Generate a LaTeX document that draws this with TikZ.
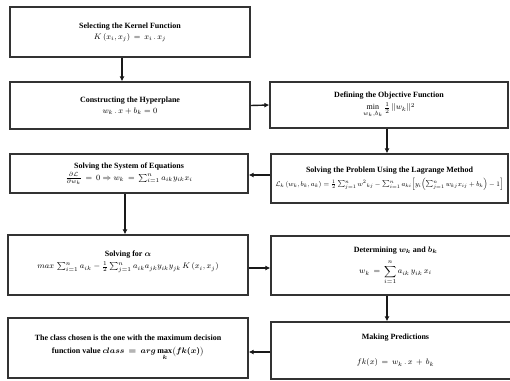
\documentclass[tikz,border=0pt]{standalone}
\usepackage{amsmath,amssymb}
\usepackage{fontspec}
\setmainfont{Liberation Serif}
\usetikzlibrary{arrows.meta}
\begin{document}
\begin{tikzpicture}[x=1pt,y=-1pt,
  box/.style={draw=black!80, line width=1.3pt, fill=white, align=center,
    inner sep=2pt, font=\fontsize{8}{11}\selectfont},
  arr/.style={draw=black!90, line width=1.4pt, -{Latex[length=5pt,width=5pt]}}]
\clip (0,0) rectangle (510,380);
\fill[white] (0,0) rectangle (510,380);
% left column
\node[box, minimum width=240pt, minimum height=50pt] (b1) at (130,32)
  {\textbf{Selecting the Kernel Function}\\ $K\left(x_i, x_j\right) \,=\, x_i\,.\,x_j$};
\node[box, minimum width=240pt, minimum height=47pt] (b2) at (130,105.5)
  {\textbf{Constructing the Hyperplane}\\ $w_k\,.\,x + b_k = 0$};
\node[box, minimum width=238pt, minimum height=46pt] (b3) at (389,105)
  {\textbf{Defining the Objective Function}\\[1pt] $\min\limits_{w_k,b_k}\frac{1}{2}\,\lVert w_k\rVert^2$};
\node[box, minimum width=237pt, minimum height=49pt] (b4) at (389.5,178.5)
  {\textbf{Solving the Problem Using the Lagrange Method}\\[3pt]
   \resizebox{228pt}{!}{$\mathcal{L}_k\left(w_k,b_k,a_k\right) = \frac{1}{2}\sum_{j=1}^{n}{w^2}_{kj} - \sum_{i=1}^{n}a_{ki}\Bigl[y_i\Bigl(\sum_{j=1}^{n}w_{kj}x_{ij} + b_k\Bigr) - 1\Bigr]$}};
\node[box, minimum width=238pt, minimum height=39pt] (b5) at (129,173.5)
  {\textbf{Solving the System of Equations}\\[1pt] $\frac{\partial\mathcal{L}}{\partial w_k} \,=\, 0 \Rightarrow w_k \,=\, \sum_{i=1}^{n} a_{ik}y_{ik}x_i$};
\node[box, minimum width=240pt, minimum height=60pt, text depth=10pt] (b6) at (128,265)
  {\textbf{Solving for $\boldsymbol{\alpha}$}\\[1pt] $max\,\sum_{i=1}^{n} a_{ik} - \frac{1}{2}\sum_{j=1}^{n} a_{ik}a_{jk}y_{ik}y_{jk}\,K\left(x_i,x_j\right)$};
\node[box, minimum width=249pt, minimum height=59pt] (b7) at (395.5,265.5)
  {\textbf{Determining $\boldsymbol{w_k}$ and $\boldsymbol{b_k}$}\\[5pt] $w_k \,=\, \displaystyle\sum_{i=1}^{n} a_{ik}\,y_{ik}\,x_i$};
\node[box, minimum width=249pt, minimum height=57pt] (b8) at (395.5,350.5)
  {\textbf{Making Predictions}\\[14pt] $fk(x) \,=\, w_k\,.\,x \,+\, b_k$};
\node[box, minimum width=240pt, minimum height=60pt] (b9) at (128,348)
  {\textbf{The class chosen is the one with the maximum decision}\\[2pt]
   \textbf{function value} {\boldmath$class \,=\, arg\max\limits_k\bigl(fk(x)\bigr)$}};
% connectors
\draw[arr] ([xshift=-8pt]b1.south) -- ([xshift=-8pt]b2.north);
\draw[arr] (b2.east) -- (b3.west);
\draw[arr] ([xshift=-2pt]b3.south) -- ([xshift=-2pt]b3.south |- b4.north);
\draw[arr] ([yshift=3.5pt]b4.west) -- ([yshift=3.5pt]b4.west -| b5.east);
\draw[arr] ([xshift=-4pt]b5.south) -- ([xshift=-4pt]b5.south |- b6.north);
\draw[arr] ([yshift=-3pt]b6.east) -- ([yshift=-3pt]b6.east -| b7.west);
\draw[arr] (b7.south -| 387,0) -- (b8.north -| 387,0);
\draw[arr] ([yshift=-1.5pt]b8.west) -- ([yshift=-1.5pt]b8.west -| b9.east);
\end{tikzpicture}
\end{document}
